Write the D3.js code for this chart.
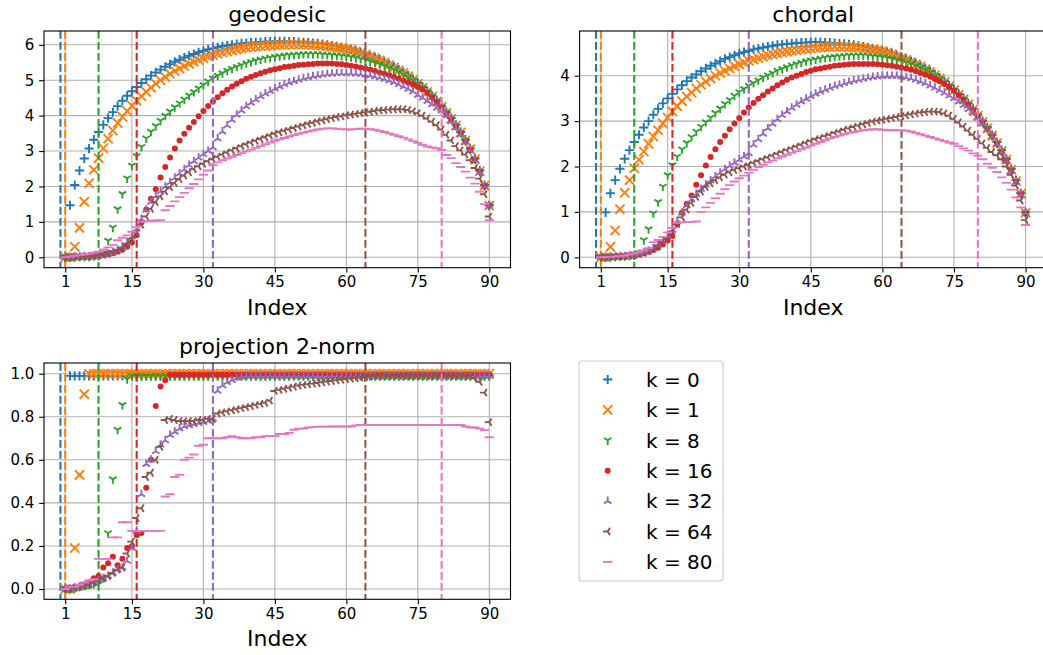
<!DOCTYPE html>
<html><head><meta charset="utf-8">
<script src="https://cdn.jsdelivr.net/npm/d3@7"></script>
<style>body{margin:0;background:#fff;overflow:hidden} svg{display:block;font-family:"DejaVu Sans",sans-serif}</style>
</head><body><svg id="chart" width="1043" height="655"></svg>
<script>
const indices = d3.range(1, 91);
const kValues = [0, 1, 8, 16, 32, 64, 80];
const seriesLabels = kValues.map(k => "k = " + k);
const colors = ["#1f77b4","#ff7f0e","#2ca02c","#d62728","#9467bd","#8c564b","#e377c2"];
const markerTypes = ["plus","x","tri_down","point","tri_up","tri_left","hline"];
const xTicks = [1, 15, 30, 45, 60, 75, 90];

// ---- geodesic ----
const geoK0 = [0.00,1.47,2.04,2.45,2.79,3.07,3.32,3.54,3.74,3.93, 4.10,4.27,4.42,4.56,4.69,4.81,4.92,5.03,5.13,5.22, 5.30,5.38,5.45,5.52,5.58,5.64,5.69,5.74,5.79,5.83, 5.87,5.90,5.93,5.96,5.98,6.00,6.02,6.04,6.05,6.06, 6.07,6.08,6.09,6.09,6.10,6.10,6.10,6.09,6.09,6.08, 6.07,6.06,6.05,6.04,6.02,6.00,5.98,5.96,5.93,5.90, 5.87,5.83,5.79,5.74,5.69,5.64,5.58,5.52,5.45,5.38, 5.30,5.22,5.13,5.03,4.92,4.81,4.69,4.56,4.42,4.27, 4.10,3.93,3.74,3.54,3.32,3.07,2.79,2.45,2.04,1.47];
const geoK1 = [0.00,0.00,0.30,0.83,1.57,2.09,2.47,2.80,3.08,3.35, 3.58,3.79,3.97,4.13,4.28,4.42,4.55,4.67,4.79,4.90, 5.00,5.09,5.18,5.26,5.33,5.40,5.46,5.52,5.57,5.62, 5.67,5.71,5.75,5.78,5.81,5.84,5.87,5.90,5.92,5.94, 5.95,5.96,5.97,5.98,5.99,6.00,6.00,6.01,6.01,6.01, 6.01,6.00,5.99,5.98,5.97,5.96,5.94,5.92,5.90,5.88, 5.85,5.81,5.77,5.72,5.67,5.62,5.56,5.50,5.43,5.36, 5.28,5.20,5.11,5.01,4.90,4.79,4.67,4.54,4.40,4.25, 4.08,3.91,3.72,3.52,3.30,3.05,2.77,2.43,2.02,1.46];
const geoK8 = [0.00,0.00,0.01,0.01,0.02,0.02,0.03,0.04,0.12,0.47, 0.84,1.36,1.79,2.23,2.59,2.86,3.12,3.36,3.55,3.71, 3.86,4.00,4.12,4.24,4.35,4.46,4.57,4.67,4.77,4.87, 4.97,5.05,5.13,5.20,5.27,5.33,5.38,5.43,5.48,5.52, 5.56,5.59,5.62,5.64,5.66,5.68,5.70,5.71,5.72,5.73, 5.74,5.74,5.74,5.74,5.73,5.72,5.71,5.70,5.69,5.67, 5.65,5.63,5.60,5.57,5.53,5.49,5.45,5.40,5.35,5.29, 5.23,5.16,5.08,4.99,4.90,4.79,4.67,4.54,4.40,4.25, 4.08,3.90,3.71,3.51,3.29,3.04,2.76,2.42,2.01,1.45];
const geoK16 = [0.00,0.00,0.01,0.01,0.02,0.03,0.04,0.05,0.07,0.09, 0.12,0.16,0.21,0.30,0.42,0.62,0.98,1.35,1.65,1.92, 2.25,2.55,2.82,3.07,3.30,3.49,3.66,3.82,3.98,4.13, 4.27,4.40,4.52,4.63,4.73,4.82,4.90,4.97,5.04,5.10, 5.15,5.20,5.24,5.28,5.31,5.34,5.37,5.39,5.41,5.43, 5.44,5.45,5.46,5.47,5.47,5.47,5.47,5.46,5.45,5.43, 5.41,5.39,5.36,5.33,5.30,5.26,5.22,5.18,5.14,5.09, 5.04,4.98,4.93,4.87,4.81,4.74,4.64,4.52,4.38,4.23, 4.07,3.89,3.70,3.50,3.28,3.03,2.75,2.42,2.01,1.46];
const geoK32 = [0.00,0.00,0.01,0.01,0.02,0.02,0.03,0.05,0.07,0.10, 0.14,0.20,0.30,0.42,0.58,0.80,1.08,1.34,1.56,1.72, 1.86,1.99,2.11,2.24,2.36,2.48,2.60,2.71,2.81,2.91, 3.00,3.10,3.35,3.55,3.72,3.88,4.02,4.14,4.26,4.36, 4.45,4.54,4.62,4.69,4.76,4.82,4.88,4.93,4.97,5.01, 5.05,5.08,5.11,5.13,5.15,5.17,5.18,5.19,5.19,5.19, 5.19,5.18,5.17,5.15,5.13,5.10,5.07,5.03,4.99,4.94, 4.88,4.82,4.75,4.68,4.58,4.50,4.41,4.32,4.22,4.14, 4.00,3.84,3.66,3.47,3.25,3.01,2.73,2.40,2.00,1.45];
const geoK64 = [0.00,0.00,0.01,0.02,0.02,0.03,0.04,0.05,0.07,0.10, 0.14,0.19,0.27,0.38,0.52,0.70,0.92,1.15,1.37,1.56, 1.72,1.86,1.98,2.10,2.21,2.31,2.40,2.49,2.57,2.64, 2.71,2.77,2.84,2.90,2.96,3.02,3.08,3.14,3.19,3.24, 3.29,3.34,3.39,3.44,3.49,3.53,3.57,3.61,3.65,3.69, 3.73,3.77,3.80,3.84,3.87,3.90,3.93,3.96,3.98,4.01, 4.03,4.05,4.07,4.09,4.11,4.13,4.15,4.16,4.17,4.18, 4.18,4.18,4.16,4.12,4.07,4.00,3.92,3.83,3.73,3.61, 3.46,3.30,3.14,3.02,2.90,2.74,2.52,2.22,1.78,1.15];
const geoK80 = [0.00,0.02,0.04,0.06,0.08,0.10,0.13,0.16,0.22,0.28, 0.35,0.48,0.55,0.62,0.72,0.85,1.00,1.02,1.03,1.04, 1.05,1.33,1.45,1.58,1.70,1.82,1.95,2.07,2.20,2.33, 2.45,2.60,2.68,2.74,2.79,2.84,2.89,2.94,2.99,3.04, 3.09,3.14,3.19,3.24,3.29,3.33,3.37,3.41,3.45,3.49, 3.52,3.55,3.58,3.61,3.63,3.64,3.64,3.63,3.62,3.61, 3.61,3.62,3.63,3.63,3.62,3.60,3.57,3.54,3.50,3.46, 3.42,3.38,3.33,3.28,3.23,3.18,3.13,3.10,3.08,3.03, 2.89,2.80,2.66,2.55,2.42,2.25,2.08,1.85,1.50,1.05];

// ---- chordal ----
const chK0 = [0.00,0.99,1.41,1.70,1.95,2.17,2.36,2.54,2.70,2.86, 3.00,3.14,3.27,3.39,3.50,3.60,3.70,3.79,3.88,3.96, 4.03,4.10,4.16,4.22,4.27,4.32,4.37,4.41,4.45,4.49, 4.52,4.55,4.58,4.60,4.62,4.64,4.66,4.68,4.69,4.70, 4.71,4.72,4.73,4.73,4.74,4.74,4.74,4.73,4.73,4.72, 4.71,4.70,4.69,4.68,4.66,4.64,4.62,4.60,4.58,4.55, 4.52,4.49,4.45,4.41,4.37,4.32,4.27,4.22,4.16,4.10, 4.03,3.96,3.88,3.79,3.70,3.60,3.50,3.39,3.27,3.14, 3.00,2.86,2.70,2.54,2.36,2.17,1.95,1.70,1.41,0.99];
const chK1 = [0.00,0.00,0.23,0.59,1.06,1.42,1.70,1.96,2.15,2.33, 2.50,2.66,2.80,2.95,3.08,3.21,3.33,3.44,3.54,3.63, 3.72,3.80,3.87,3.94,4.00,4.06,4.11,4.16,4.21,4.25, 4.29,4.33,4.36,4.39,4.42,4.45,4.47,4.49,4.51,4.53, 4.55,4.56,4.58,4.59,4.60,4.61,4.62,4.63,4.63,4.64, 4.64,4.64,4.63,4.63,4.62,4.61,4.60,4.58,4.56,4.54, 4.51,4.47,4.43,4.39,4.35,4.30,4.25,4.20,4.14,4.08, 4.01,3.94,3.86,3.77,3.68,3.58,3.48,3.37,3.25,3.12, 2.98,2.84,2.68,2.52,2.34,2.15,1.93,1.68,1.40,0.98];
const chK8 = [0.00,0.00,0.01,0.01,0.02,0.02,0.03,0.04,0.10,0.38, 0.62,0.97,1.22,1.56,1.81,2.03,2.22,2.38,2.52,2.65, 2.77,2.88,2.98,3.08,3.18,3.28,3.38,3.47,3.56,3.64, 3.71,3.78,3.84,3.90,3.96,4.01,4.06,4.11,4.15,4.19, 4.23,4.26,4.29,4.32,4.34,4.36,4.38,4.40,4.41,4.42, 4.43,4.44,4.45,4.45,4.45,4.45,4.44,4.43,4.42,4.41, 4.39,4.37,4.35,4.32,4.29,4.26,4.22,4.18,4.13,4.07, 4.00,3.93,3.85,3.76,3.67,3.57,3.47,3.36,3.24,3.11, 2.97,2.83,2.67,2.51,2.33,2.14,1.92,1.67,1.39,0.97];
const chK16 = [0.00,0.00,0.01,0.01,0.02,0.03,0.04,0.05,0.07,0.09, 0.12,0.16,0.21,0.28,0.37,0.47,0.72,0.98,1.18,1.36, 1.60,1.81,2.02,2.21,2.38,2.54,2.68,2.82,2.95,3.07, 3.19,3.30,3.40,3.49,3.57,3.65,3.72,3.79,3.85,3.91, 3.96,4.00,4.04,4.08,4.11,4.14,4.16,4.18,4.20,4.22, 4.23,4.24,4.25,4.26,4.26,4.26,4.26,4.26,4.25,4.24, 4.23,4.22,4.20,4.18,4.16,4.13,4.10,4.06,4.02,3.98, 3.93,3.88,3.82,3.75,3.67,3.57,3.47,3.36,3.24,3.11, 2.97,2.83,2.67,2.50,2.32,2.13,1.91,1.67,1.39,0.97];
const chK32 = [0.00,0.00,0.01,0.01,0.02,0.02,0.03,0.05,0.07,0.10, 0.14,0.19,0.27,0.36,0.47,0.60,0.80,0.98,1.14,1.27, 1.39,1.50,1.60,1.69,1.78,1.86,1.94,2.01,2.08,2.15, 2.22,2.29,2.48,2.60,2.72,2.84,2.94,3.04,3.13,3.21, 3.29,3.36,3.43,3.49,3.55,3.60,3.65,3.69,3.73,3.77, 3.80,3.83,3.86,3.89,3.91,3.93,3.95,3.97,3.98,3.99, 3.99,3.99,3.99,3.98,3.96,3.94,3.91,3.87,3.83,3.78, 3.73,3.68,3.62,3.56,3.50,3.43,3.35,3.26,3.17,3.07, 2.95,2.81,2.66,2.49,2.31,2.12,1.90,1.66,1.38,0.97];
const chK64 = [0.00,0.00,0.01,0.02,0.02,0.03,0.04,0.05,0.07,0.10, 0.14,0.19,0.26,0.35,0.45,0.57,0.73,0.88,1.05,1.20, 1.33,1.45,1.55,1.63,1.70,1.76,1.82,1.87,1.92,1.96, 2.00,2.04,2.08,2.12,2.16,2.20,2.24,2.28,2.32,2.36, 2.40,2.44,2.48,2.52,2.56,2.60,2.63,2.67,2.70,2.74, 2.77,2.81,2.84,2.87,2.90,2.93,2.96,2.99,3.01,3.03, 3.05,3.07,3.09,3.11,3.13,3.15,3.17,3.19,3.20,3.21, 3.21,3.20,3.17,3.12,3.05,2.97,2.88,2.79,2.70,2.61, 2.51,2.41,2.32,2.25,2.16,2.00,1.82,1.58,1.25,0.82];
const chK80 = [0.00,0.01,0.01,0.02,0.03,0.04,0.06,0.08,0.11,0.15, 0.20,0.33,0.38,0.45,0.55,0.65,0.76,0.77,0.78,0.78, 0.79,1.00,1.10,1.20,1.30,1.40,1.50,1.59,1.67,1.74, 1.80,1.86,1.93,1.99,2.04,2.09,2.13,2.18,2.22,2.26, 2.30,2.34,2.38,2.42,2.46,2.50,2.54,2.58,2.62,2.65, 2.68,2.71,2.74,2.76,2.78,2.80,2.81,2.82,2.82,2.81, 2.80,2.80,2.80,2.80,2.79,2.77,2.74,2.71,2.68,2.65, 2.62,2.59,2.56,2.53,2.50,2.45,2.40,2.35,2.29,2.24, 2.16,2.06,1.97,1.88,1.76,1.64,1.49,1.32,1.10,0.71];

// ---- projection 2-norm ----
const prK0 = [0.00,0.99,0.99,0.99,0.99,0.99,0.99,0.99,0.99,0.99, 0.99,0.99,0.99,0.99,0.99,0.99,0.99,0.99,0.99,0.99, 0.99,0.99,0.99,0.99,0.99,0.99,0.99,0.99,0.99,0.99, 0.99,0.99,0.99,0.99,0.99,0.99,0.99,0.99,0.99,0.99, 0.99,0.99,0.99,0.99,0.99,0.99,0.99,0.99,0.99,0.99, 0.99,0.99,0.99,0.99,0.99,0.99,0.99,0.99,0.99,0.99, 0.99,0.99,0.99,0.99,0.99,0.99,0.99,0.99,0.99,0.99, 0.99,0.99,0.99,0.99,0.99,0.99,0.99,0.99,0.99,0.99, 0.99,0.99,0.99,0.99,0.99,0.99,0.99,0.99,0.99,0.99];
const prK1 = [0.00,0.00,0.19,0.53,0.905,1.00,1.00,1.00,1.00,1.00, 1.00,1.00,1.00,1.00,1.00,1.00,1.00,1.00,1.00,1.00, 1.00,1.00,1.00,1.00,1.00,1.00,1.00,1.00,1.00,1.00, 1.00,1.00,1.00,1.00,1.00,1.00,1.00,1.00,1.00,1.00, 1.00,1.00,1.00,1.00,1.00,1.00,1.00,1.00,1.00,1.00, 1.00,1.00,1.00,1.00,1.00,1.00,1.00,1.00,1.00,1.00, 1.00,1.00,1.00,1.00,1.00,1.00,1.00,1.00,1.00,1.00, 1.00,1.00,1.00,1.00,1.00,1.00,1.00,1.00,1.00,1.00, 1.00,1.00,1.00,1.00,1.00,1.00,1.00,1.00,1.00,1.00];
const prK8 = [0.00,0.00,0.005,0.01,0.015,0.02,0.025,0.03,0.05,0.26, 0.51,0.74,0.855,0.975,0.99,0.99,0.99,0.99,0.99,0.99, 0.99,0.99,0.99,0.99,0.99,0.99,0.99,0.99,0.99,0.99, 0.99,0.99,0.99,0.99,0.99,0.99,0.99,0.99,0.99,0.99, 0.99,0.99,0.99,0.99,0.99,0.99,0.99,0.99,0.99,0.99, 0.99,0.99,0.99,0.99,0.99,0.99,0.99,0.99,0.99,0.99, 0.99,0.99,0.99,0.99,0.99,0.99,0.99,0.99,0.99,0.99, 0.99,0.99,0.99,0.99,0.99,0.99,0.99,0.99,0.99,0.99, 0.99,0.99,0.99,0.99,0.99,0.99,0.99,0.99,0.99,0.99];
const prK16 = [0.00,0.00,0.01,0.01,0.02,0.03,0.05,0.06,0.10,0.12, 0.15,0.11,0.14,0.19,0.20,0.25,0.26,0.47,0.60,0.85, 0.94,0.97,0.995,0.995,0.995,0.995,0.995,0.995,0.995,0.995, 0.995,0.995,0.995,0.995,0.995,0.995,0.995,0.995,0.995,0.995, 0.995,0.995,0.995,0.995,0.995,0.995,0.995,0.995,0.995,0.995, 0.995,0.995,0.995,0.995,0.995,0.995,0.995,0.995,0.995,0.995, 0.995,0.995,0.995,0.995,0.995,0.995,0.995,0.995,0.995,0.995, 0.995,0.995,0.995,0.995,0.995,0.995,0.995,0.995,0.995,0.995, 0.995,0.995,0.995,0.995,0.995,0.995,0.995,0.995,0.995,0.995];
const prK32 = [0.00,0.00,0.005,0.01,0.015,0.02,0.03,0.04,0.05,0.06, 0.075,0.09,0.10,0.13,0.19,0.27,0.44,0.58,0.60,0.64, 0.67,0.69,0.715,0.73,0.745,0.755,0.76,0.765,0.77,0.775, 0.78,0.79,0.92,0.945,0.96,0.97,0.98,0.985,0.99,0.99, 0.99,0.99,0.99,0.99,0.99,0.99,0.99,0.99,0.99,0.99, 0.99,0.99,0.99,0.99,0.99,0.99,0.99,0.99,0.99,0.99, 0.99,0.99,0.99,0.99,0.99,0.99,0.99,0.99,0.99,0.99, 0.99,0.99,0.99,0.99,0.99,0.99,0.99,0.99,0.99,0.99, 0.99,0.99,0.99,0.99,0.99,0.99,0.99,0.99,0.99,0.99];
const prK64 = [0.00,0.00,0.005,0.01,0.015,0.02,0.03,0.04,0.05,0.06, 0.075,0.09,0.10,0.165,0.22,0.33,0.375,0.52,0.54,0.60, 0.66,0.785,0.79,0.785,0.78,0.78,0.78,0.78,0.785,0.785, 0.79,0.79,0.815,0.82,0.825,0.83,0.835,0.84,0.845,0.85, 0.855,0.86,0.865,0.875,0.92,0.925,0.93,0.935,0.94,0.945, 0.948,0.951,0.954,0.957,0.96,0.963,0.966,0.969,0.972,0.975, 0.977,0.98,0.982,0.985,0.988,0.99,0.99,0.99,0.99,0.99, 0.99,0.99,0.99,0.99,0.99,0.99,0.99,0.99,0.99,0.99, 0.99,0.99,0.99,0.99,0.99,0.99,0.98,0.962,0.912,0.775];
const prK80 = [0.00,0.01,0.01,0.02,0.03,0.04,0.045,0.14,0.14,0.14, 0.24,0.24,0.31,0.31,0.27,0.27,0.27,0.27,0.27,0.27, 0.27,0.43,0.44,0.52,0.53,0.60,0.61,0.625,0.665,0.67, 0.70,0.70,0.70,0.70,0.705,0.71,0.705,0.70,0.70,0.70, 0.705,0.705,0.71,0.71,0.71,0.72,0.72,0.725,0.74,0.745, 0.745,0.75,0.752,0.754,0.754,0.754,0.755,0.755,0.755,0.755, 0.755,0.76,0.762,0.762,0.762,0.762,0.762,0.762,0.762,0.762, 0.762,0.762,0.762,0.762,0.762,0.762,0.762,0.762,0.762,0.762, 0.762,0.762,0.762,0.762,0.755,0.75,0.75,0.745,0.738,0.705];

const panels = [
  { title: "geodesic", series: [geoK0, geoK1, geoK8, geoK16, geoK32, geoK64, geoK80],
    yDomain: [-0.294, 6.39], yTicks: [0,1,2,3,4,5,6], fmt: d3.format("d"),
    box: { l: 44, r: 510.5, t: 31, b: 267.7 } },
  { title: "chordal", series: [chK0, chK1, chK8, chK16, chK32, chK64, chK80],
    yDomain: [-0.229, 4.985], yTicks: [0,1,2,3,4], fmt: d3.format("d"),
    box: { l: 579.6, r: 1046.8, t: 31, b: 267.7 } },
  { title: "projection 2-norm", series: [prK0, prK1, prK8, prK16, prK32, prK64, prK80],
    yDomain: [-0.0478, 1.0497], yTicks: [0,0.2,0.4,0.6,0.8,1.0], fmt: d3.format(".1f"),
    box: { l: 44, r: 510.5, t: 363, b: 599.3 } }
];

const svg = d3.select("#chart");
const MS = 9.2, R = MS / 2;
function markerPath(type) {
  const r = R;
  switch (type) {
    case "plus": return `M${-r},0H${r}M0,${-r}V${r}`;
    case "x": return `M${-r},${-r}L${r},${r}M${-r},${r}L${r},${-r}`;
    case "tri_down": return `M0,0V${r}M0,0L${0.8*r},${-0.5*r}M0,0L${-0.8*r},${-0.5*r}`;
    case "tri_up": return `M0,0V${-r}M0,0L${0.8*r},${0.5*r}M0,0L${-0.8*r},${0.5*r}`;
    case "tri_left": return `M0,0H${-r}M0,0L${0.5*r},${-0.8*r}M0,0L${0.5*r},${0.8*r}`;
    case "hline": return `M${-r},0H${r}`;
  }
  return null;
}
function drawMarker(g, type, color, x, y) {
  if (type === "point") {
    g.append("circle").attr("cx", x).attr("cy", y).attr("r", 3.0).attr("fill", color);
  } else {
    g.append("path").attr("d", markerPath(type)).attr("transform", `translate(${x},${y})`)
      .attr("fill", "none").attr("stroke", color).attr("stroke-width", 1.9);
  }
}

panels.forEach((p, pi) => {
  const b = p.box;
  const x = d3.scaleLinear().domain([-3.45, 94.45]).range([b.l, b.r]);
  const y = d3.scaleLinear().domain(p.yDomain).range([b.b, b.t]);
  const g = svg.append("g");
  const clipId = "clip" + pi;
  svg.append("clipPath").attr("id", clipId).append("rect")
    .attr("x", b.l).attr("y", b.t).attr("width", b.r - b.l).attr("height", b.b - b.t);
  const grid = g.append("g").attr("clip-path", `url(#${clipId})`);
  xTicks.forEach(t => grid.append("line").attr("x1", x(t)).attr("x2", x(t)).attr("y1", b.t).attr("y2", b.b)
    .attr("stroke", "#b0b0b0").attr("stroke-width", 1.1));
  p.yTicks.forEach(t => grid.append("line").attr("x1", b.l).attr("x2", b.r).attr("y1", y(t)).attr("y2", y(t))
    .attr("stroke", "#b0b0b0").attr("stroke-width", 1.1));
  const plot = g.append("g").attr("clip-path", `url(#${clipId})`);
  p.series.forEach((vals, si) => {
    const sg = plot.append("g");
    vals.forEach((v, i) => drawMarker(sg, markerTypes[si], colors[si], x(indices[i]), y(v)));
    plot.append("line").attr("x1", x(kValues[si])).attr("x2", x(kValues[si]))
      .attr("y1", b.t).attr("y2", b.b).attr("stroke", colors[si]).attr("stroke-width", 2.08)
      .attr("stroke-dasharray", "7.7,3.3");
  });
  const xAxis = d3.axisBottom(x).tickValues(xTicks).tickSize(4.86).tickPadding(4.2).tickFormat(d3.format("d"));
  const ax = g.append("g").attr("transform", `translate(0,${b.b})`).call(xAxis);
  const yAxis = d3.axisLeft(y).tickValues(p.yTicks).tickSize(4.86).tickPadding(4.9).tickFormat(p.fmt);
  const ay = g.append("g").attr("transform", `translate(${b.l},0)`).call(yAxis);
  [ax, ay].forEach(a => {
    a.select(".domain").remove();
    a.selectAll(".tick line").attr("stroke", "#000").attr("stroke-width", 1.1);
    a.selectAll(".tick text").attr("fill", "#000").style("font-size", "15px").style("font-family", "DejaVu Sans");
  });
  g.append("rect").attr("x", b.l).attr("y", b.t).attr("width", b.r - b.l).attr("height", b.b - b.t)
    .attr("fill", "none").attr("stroke", "#000").attr("stroke-width", 1.1);
  g.append("text").attr("x", (b.l + b.r) / 2).attr("y", b.t - 8.6).attr("text-anchor", "middle")
    .style("font-size", "22px").attr("fill", "#000").text(p.title);
  g.append("text").attr("x", (b.l + b.r) / 2).attr("y", b.b + 47).attr("text-anchor", "middle")
    .style("font-size", "22px").attr("fill", "#000").text("Index");
});

const lg = svg.append("g");
lg.append("rect").attr("x", 579).attr("y", 361).attr("width", 144).attr("height", 220).attr("rx", 3)
  .attr("fill", "#fff").attr("fill-opacity", 0.8).attr("stroke", "#cccccc").attr("stroke-width", 1.1);
seriesLabels.forEach((lab, i) => {
  const cy = 379.5 + i * 30.4;
  drawMarker(lg, markerTypes[i], colors[i], 607.7, cy);
  lg.append("text").attr("x", 646).attr("y", cy + 7.2).style("font-size", "20px").attr("fill", "#000").text(lab);
});
</script>
</body></html>
